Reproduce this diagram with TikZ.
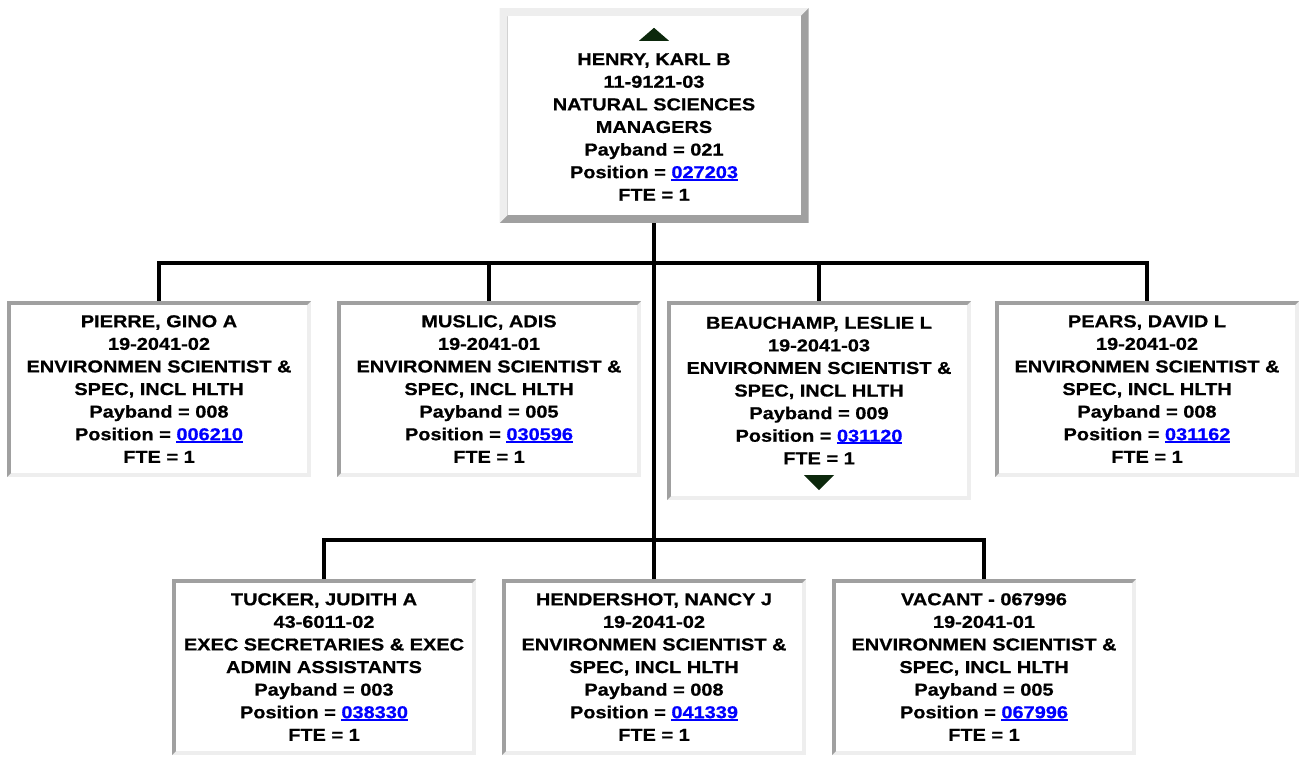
\documentclass[tikz,border=0pt]{standalone}
\usepackage{fontspec}
\setmainfont{Liberation Sans}[FakeStretch=1.16, BoldFeatures={FakeBold=0.7}]
\usetikzlibrary{calc}
\definecolor{bdark}{HTML}{A0A0A0}
\definecolor{blight}{HTML}{EEEEEE}
\definecolor{linkblue}{HTML}{0000FF}
\definecolor{trigreen}{RGB}{12,40,12}
\newcommand\poslink[1]{\textcolor{linkblue}{\setbox0\hbox{#1}\rlap{\rule[-2.4pt]{\wd0}{1.7pt}}\box0}}
\begin{document}
\begin{tikzpicture}[x=1pt,y=-1pt,
  conn/.style={line width=4pt, black},
  bevel/.style n args={3}{path picture={
     \fill[#2] (path picture bounding box.north west) rectangle (path picture bounding box.south east);
     \fill[#1] (path picture bounding box.north west) -- (path picture bounding box.north east)
        -- ([xshift=-#3,yshift=-#3]path picture bounding box.north east)
        -- ([xshift=#3,yshift=-#3]path picture bounding box.north west)
        -- ([xshift=#3,yshift=#3]path picture bounding box.south west)
        -- (path picture bounding box.south west) -- cycle;
     \fill[white] ([xshift=#3,yshift=-#3]path picture bounding box.north west) rectangle ([xshift=-#3,yshift=#3]path picture bounding box.south east);
  }},
  childbox/.style={rectangle, inner sep=0pt, minimum width=304pt, minimum height=176pt, bevel={bdark}{blight}{4pt}},
  topbox/.style={rectangle, inner sep=0pt, minimum width=309pt, minimum height=215pt, bevel={blight}{bdark}{8pt}},
  txt/.style={align=center, inner sep=0pt, font=\bfseries\fontsize{17.2}{22.6}\selectfont},
  tri/.style={fill=trigreen}
]
\useasboundingbox (0,0) rectangle (1299,782);

% boxes
\node[topbox] (henry) at (654,115.5) {};
\node[childbox] (pierre) at (159,389) {};
\node[childbox] (muslic) at (489,389) {};
\node[childbox, minimum height=199pt] (beauchamp) at (819,400.5) {};
\node[childbox] (pears) at (1147,389) {};
\node[childbox] (tucker) at (324,667) {};
\node[childbox] (hendershot) at (654,667) {};
\node[childbox] (vacant) at (984,667) {};

% texts
\node[txt] (henry-t) at (654,127) {HENRY, KARL B\\11-9121-03\\NATURAL SCIENCES\\MANAGERS\\Payband = 021\\Position = \poslink{027203}\\FTE = 1};
\node[txt] (pierre-t) at (pierre) {PIERRE, GINO A\\19-2041-02\\ENVIRONMEN SCIENTIST \&\\SPEC, INCL HLTH\\Payband = 008\\Position = \poslink{006210}\\FTE = 1};
\node[txt] (muslic-t) at (muslic) {MUSLIC, ADIS\\19-2041-01\\ENVIRONMEN SCIENTIST \&\\SPEC, INCL HLTH\\Payband = 005\\Position = \poslink{030596}\\FTE = 1};
\node[txt] (beauchamp-t) at (819,390.5) {BEAUCHAMP, LESLIE L\\19-2041-03\\ENVIRONMEN SCIENTIST \&\\SPEC, INCL HLTH\\Payband = 009\\Position = \poslink{031120}\\FTE = 1};
\node[txt] (pears-t) at (pears) {PEARS, DAVID L\\19-2041-02\\ENVIRONMEN SCIENTIST \&\\SPEC, INCL HLTH\\Payband = 008\\Position = \poslink{031162}\\FTE = 1};
\node[txt] (tucker-t) at (tucker) {TUCKER, JUDITH A\\43-6011-02\\EXEC SECRETARIES \& EXEC\\ADMIN ASSISTANTS\\Payband = 003\\Position = \poslink{038330}\\FTE = 1};
\node[txt] (hendershot-t) at (hendershot) {HENDERSHOT, NANCY J\\19-2041-02\\ENVIRONMEN SCIENTIST \&\\SPEC, INCL HLTH\\Payband = 008\\Position = \poslink{041339}\\FTE = 1};
\node[txt] (vacant-t) at (vacant) {VACANT - 067996\\19-2041-01\\ENVIRONMEN SCIENTIST \&\\SPEC, INCL HLTH\\Payband = 005\\Position = \poslink{067996}\\FTE = 1};

% triangles
\fill[tri] ($(henry.north)+(0,20)$) -- ($(henry.north)+(15,33)$) -- ($(henry.north)+(-15,33)$) -- cycle;
\fill[tri] ($(beauchamp.south)+(0,-10)$) -- ($(beauchamp.south)+(-15,-25)$) -- ($(beauchamp.south)+(15,-25)$) -- cycle;

% connectors
\coordinate (j1) at (654,263);
\coordinate (j2) at (654,540);
\draw[conn] (henry.south) -- (hendershot.north);
\draw[conn] (pierre.north) -- (pierre.north |- j1) -- (pears.north |- j1) -- (pears.north);
\draw[conn] (muslic.north) -- (muslic.north |- j1);
\draw[conn] (beauchamp.north) -- (beauchamp.north |- j1);
\draw[conn] (tucker.north) -- (tucker.north |- j2) -- (vacant.north |- j2) -- (vacant.north);
\end{tikzpicture}
\end{document}
